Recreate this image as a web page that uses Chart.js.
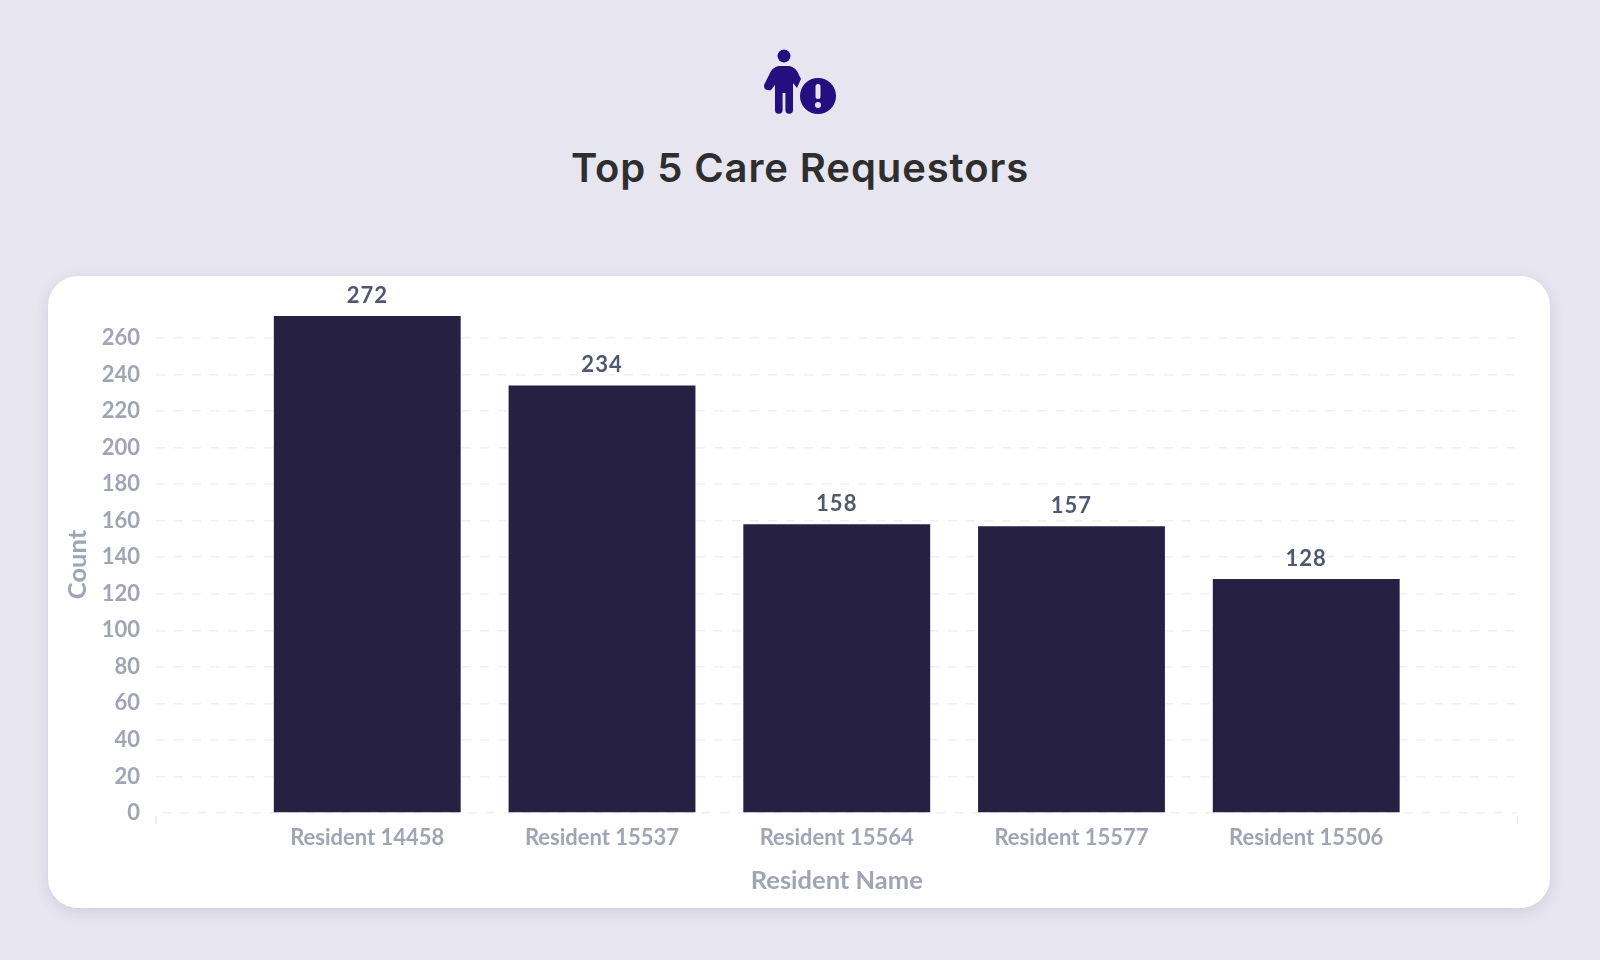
<!DOCTYPE html>
<html>
<head>
<meta charset="utf-8">
<title>Top 5 Care Requestors</title>
<script src="https://cdn.jsdelivr.net/npm/chart.js@4/dist/chart.umd.min.js"></script>
<style>
    html, body { margin: 0; padding: 0; width: 1600px; height: 960px; overflow: hidden; background: #e6e5f0; }
    #icon { position: absolute; left: 750px; top: 40px; }
    h1 { position: absolute; left: 0; top: 142px; width: 1600px; margin: 0; text-align: center; color: #2e2e2e;
         font: 600 40px/52px Inter, "Noto Sans", sans-serif; letter-spacing: 0.9px; }
    #card { position: absolute; left: 48px; top: 276px; width: 1502px; height: 632px; background: #fff;
            border-radius: 30px; box-shadow: 0 4px 14px rgba(70,70,110,.14); }
    canvas { display: block; }
</style>
</head>
<body>
<svg id="icon" width="100" height="80" viewBox="750 40 100 80">
    <circle cx="784" cy="56" r="6.5" fill="#230f7f"/>
    <path fill="#230f7f" d="M771 71 Q775 66 780 66 H788 Q793 66 797 71 L801 79 L797 88 L793 83 V110 A3.800 3.800 0 0 1 785.400 110 V93 H782.600 V110 A3.800 3.800 0 0 1 775 110 V85 L771 90 Q768 91 765 89 Q763 86 765 83 Z"/>
    <circle cx="818" cy="96" r="18" fill="#230f7f"/>
    <rect x="815.500" y="84" width="5" height="15" rx="2.500" fill="#e6e5f0"/>
    <circle cx="818" cy="105" r="3" fill="#e6e5f0"/>
</svg>
<h1>Top 5 Care Requestors</h1>
<div id="card"><canvas id="chart" width="1502" height="632"></canvas></div>
<script>
const categories = ['Resident 14458', 'Resident 15537', 'Resident 15564', 'Resident 15577', 'Resident 15506'];
const counts = [272, 234, 158, 157, 128];
const slots = [1, 2, 3, 4, 5];
const yTicks = [0, 20, 40, 60, 80, 100, 120, 140, 160, 180, 200, 220, 240, 260];

// 柱顶数值
const valueLabels = {
    id: 'valueLabels',
    afterDatasetsDraw(chart) {
        const ctx = chart.ctx;
        ctx.save();
        ctx.font = '700 22px Lato';
        ctx.letterSpacing = '1px';
        ctx.fillStyle = '#50576f';
        ctx.textAlign = 'center';
        ctx.textBaseline = 'bottom';
        chart.getDatasetMeta(0).data.forEach((bar, i) => {
            ctx.fillText(counts[i], bar.x, bar.y - 9.5);
        });
        ctx.restore();
    }
};

// x 轴两端的小刻度
const axisEnds = {
    id: 'axisEnds',
    afterDraw(chart) {
        const { ctx, chartArea } = chart;
        ctx.save();
        ctx.strokeStyle = '#e8e8ee';
        ctx.lineWidth = 1.5;
        [chartArea.left, chartArea.right].forEach(x => {
            ctx.beginPath();
            ctx.moveTo(x, chartArea.bottom + 3);
            ctx.lineTo(x, chartArea.bottom + 11);
            ctx.stroke();
        });
        ctx.restore();
    }
};

new Chart(document.getElementById('chart'), {
    type: 'bar',
    data: {
        datasets: [{
            data: slots.map((s, i) => ({ x: s, y: counts[i] })),
            backgroundColor: '#262142',
            barPercentage: 0.796,
            categoryPercentage: 1
        }]
    },
    plugins: [valueLabels, axisEnds],
    options: {
        responsive: false,
        animation: false,
        layout: { padding: { top: 40, right: 32.5, left: 0, bottom: 0 } },
        plugins: { legend: { display: false }, tooltip: { enabled: false } },
        scales: {
            x: {
                type: 'linear',
                offset: false,
                min: 0.1,
                max: 5.9,
                afterBuildTicks: s => { s.ticks = slots.map(v => ({ value: v })); },
                afterFit: s => { s.height = 95; },
                grid: { display: false },
                border: { display: false },
                ticks: {
                    autoSkip: false,
                    maxRotation: 0,
                    padding: 4,
                    color: '#a0a4b5',
                    font: { family: 'Lato', size: 22, weight: '700' },
                    callback: v => categories[v - 1]
                },
                title: {
                    display: true,
                    text: 'Resident Name',
                    color: '#a0a4b5',
                    font: { family: 'Lato', size: 25.5, weight: '700' },
                    padding: { top: 0, bottom: 12 }
                }
            },
            y: {
                min: 0,
                max: 272,
                afterBuildTicks: s => { s.ticks = yTicks.map(v => ({ value: v })); },
                afterFit: s => { s.width = 108; },
                grid: { color: '#f0f0f4', lineWidth: 1.5, drawTicks: false },
                border: {
                    display: false,
                    dash: [9, 9],
                    dashOffset: c => (c.tick && c.tick.value === 0 ? -6 : 0)
                },
                ticks: {
                    padding: 16,
                    color: '#a0a4b5',
                    font: { family: 'Lato', size: 22, weight: '700' }
                },
                title: {
                    display: true,
                    text: 'Count',
                    color: '#a0a4b5',
                    font: { family: 'Lato', size: 25.5, weight: '700' },
                    padding: { top: 14, bottom: 0 }
                }
            }
        }
    }
});
</script>
</body>
</html>
